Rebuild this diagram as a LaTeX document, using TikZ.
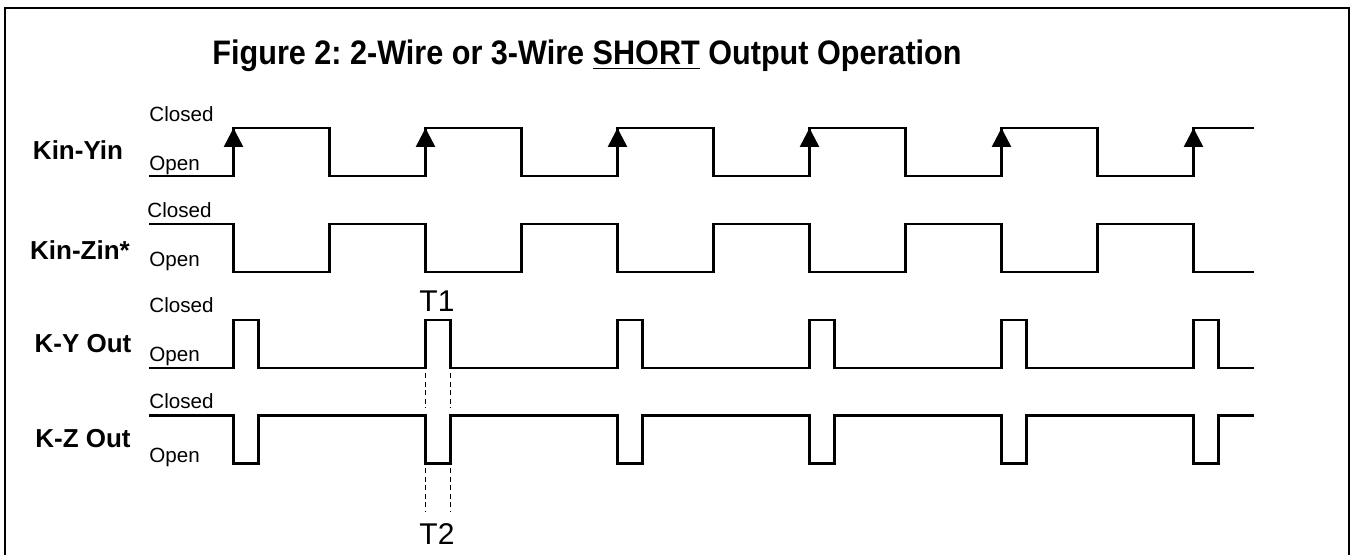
\documentclass[tikz,border=0pt]{standalone}
\usepackage{fontspec}
\setmainfont{Liberation Sans}
\newfontfamily\titlefont[FakeStretch=0.9]{Liberation Sans}
\usetikzlibrary{arrows.meta}

\begin{document}
\frenchspacing
\begin{tikzpicture}[x=0.5pt,y=-0.5pt,
  every node/.style={inner sep=0pt},
  wave/.style={line width=1.3pt},
  state/.style={anchor=base west,font=\fontsize{10.3}{12}\selectfont},
  signame/.style={anchor=base,font=\fontsize{13}{15}\selectfont\bfseries},
  timelabel/.style={anchor=base,font=\fontsize{15}{18}\selectfont},
  guide/.style={line width=0.7pt,dash pattern=on 2.5pt off 1.8pt}]
  \useasboundingbox (0,0) rectangle (1351,555);
  \draw[line width=1.2pt] (5,560) -- (5,8) -- (1349,8) -- (1349,560);
  \node[anchor=base] (title) at (587,65) {\titlefont\fontsize{17}{20}\selectfont\bfseries Figure 2: 2-Wire or 3-Wire \underline{SHORT} Output Operation};
  % signal names
  \node[signame] (kyin) at (78,160) {Kin-Yin};
  \node[signame] (kzin) at (80,260) {Kin-Zin*};
  \node[signame] (kyout) at (83,352.5) {K-Y Out};
  \node[signame] (kzout) at (83,448) {K-Z Out};
  % states
  \node[state] (kyinc) at (149,122) {Closed};
  \node[state] (kyino) at (149,171) {Open};
  \node[state] (kzinc) at (147,218) {Closed};
  \node[state] (kzino) at (149,267) {Open};
  \node[state] (kyoutc) at (149,313) {Closed};
  \node[state] (kyouto) at (149,362) {Open};
  \node[state] (kzoutc) at (149,409) {Closed};
  \node[state] (kzouto) at (149,463) {Open};
  % Kin-Yin
  \draw[wave] (149,176) -- (233.5,176)
    \foreach \k in {0,...,4} { -- ++(0,-48) -- ++(96,0) -- ++(0,48) -- ++(96,0) }
    -- ++(0,-48) -- (1254,128);
  \foreach \k in {0,...,5}
    \draw[wave,-{Triangle[length=9.5pt,width=9.5pt]}] ({233.5+192*\k},176) -- ++(0,-48);
  % Kin-Zin*
  \draw[wave] (149,224) -- (233.5,224)
    \foreach \k in {0,...,4} { -- ++(0,48) -- ++(96,0) -- ++(0,-48) -- ++(96,0) }
    -- ++(0,48) -- (1254,272);
  % K-Y Out
  \draw[wave] (149,368)
    \foreach \k in {0,...,5} { -- ({233.5+192*\k},368) -- ++(0,-48) -- ++(25,0) -- ++(0,48) }
    -- (1254,368);
  % K-Z Out
  \draw[wave] (149,415.5)
    \foreach \k in {0,...,5} { -- ({233.5+192*\k},415.5) -- ++(0,48) -- ++(25,0) -- ++(0,-48) }
    -- (1254,415.5);
  % T1 / T2
  \foreach \x in {425.5,450.5} {
    \draw[guide] (\x,373) -- (\x,408);
    \draw[guide] (\x,468) -- (\x,512);
  }
  \node[timelabel] (tone) at (437,311.5) {T1};
  \node[timelabel] (ttwo) at (437,545) {T2};
\end{tikzpicture}
\end{document}
